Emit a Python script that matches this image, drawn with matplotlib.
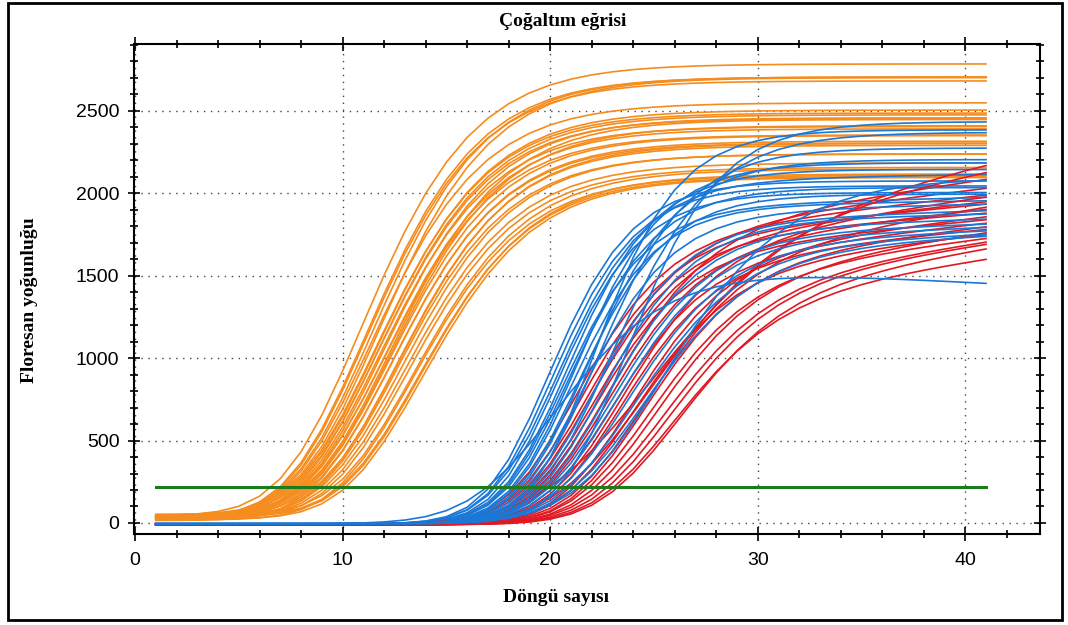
import numpy as np
import matplotlib
matplotlib.use("Agg")
import matplotlib.pyplot as plt
from matplotlib.patches import Rectangle
from matplotlib.ticker import MultipleLocator

# amplification data, one entry per well:
# ct = cycle where the curve crosses the threshold, top = value at cycle 41,
# drift = late slope per cycle, width = how slowly the curve bends over
cycles = np.arange(1, 42)
THRESHOLD = 220

orange_ct = [6.6, 7.0, 7.2, 7.1, 7.4, 7.3, 7.6, 7.8, 7.5, 8.0, 7.7, 8.2, 7.9, 8.3, 8.1,
             8.4, 8.0, 8.6, 8.5, 8.8, 8.7, 8.9, 9.0, 9.2, 9.4, 9.6, 9.8, 10.0, 10.2, 9.9]
orange_top = [2740, 2675, 2668, 2660, 2652, 2521, 2470, 2458, 2445, 2432, 2420, 2400, 2385, 2370, 2360,
              2325, 2310, 2290, 2280, 2262, 2250, 2215, 2200, 2150, 2130, 2100, 2090, 2080, 2072, 2060]
orange_base = [45, 30, 38, 22, 50, 28, 35, 18, 42, 26, 33, 48, 20, 40, 31,
               25, 44, 15, 36, 29, 52, 23, 39, 34, 27, 46, 19, 37, 24, 41]

blue_ct = [17.1, 17.3, 17.4, 17.6, 17.8, 17.9, 18.0, 18.2, 18.3, 18.5, 18.6, 18.8, 19.0,
           19.1, 19.2, 19.4, 19.6, 19.8, 20.0, 20.2, 20.4, 20.6, 20.9, 21.2, 17.0, 21.4]
blue_top = [2080, 2050, 2120, 2010, 2150, 1980, 2040, 2190, 1960, 2000, 2210, 1940, 2280,
            2390, 1900, 2375, 1880, 1850, 1820, 1800, 2440, 1780, 1760, 1750, 1460, 2100]
blue_drift = [0, 0, 2, 0, 0, 3, 0, 0, 2, 0, 0, 3, 0,
              0, 4, 0, 3, 4, 4, 5, 0, 5, 5, 6, -7, 0]
blue_width = [2.2, 2.2, 2.3, 2.2, 2.3, 2.2, 2.3, 2.3, 2.2, 2.3, 2.4, 2.3, 2.4,
              2.2, 2.4, 2.6, 2.4, 2.5, 2.6, 2.6, 2.4, 2.7, 2.8, 2.9, 3.0, 3.2]

red_ct = [18.4, 18.7, 18.9, 19.1, 19.3, 19.5, 19.7, 19.9, 20.0, 20.2, 20.4, 20.6,
          20.8, 21.0, 21.2, 21.5, 21.7, 21.9, 22.2, 22.5, 22.8, 23.1, 23.3]
red_top = [2000, 1945, 2041, 1890, 1960, 1850, 2096, 1914, 2205, 1830, 1990, 1792,
           2150, 1870, 1762, 1930, 1810, 1740, 1775, 1720, 1707, 1616, 1680]
red_drift = [14, 12, 15, 10, 14, 12, 18, 14, 25, 14, 18, 12,
             24, 15, 14, 20, 15, 15, 18, 18, 18, 18, 20]
red_width = [2.4, 2.4, 2.5, 2.4, 2.5, 2.4, 2.6, 2.5, 3.8, 2.5, 2.6, 2.5,
             3.3, 2.6, 2.6, 2.7, 2.6, 2.7, 2.7, 2.8, 2.8, 2.8, 2.8]

ORANGE = "#F58C1E"
BLUE = "#1A78D7"
RED = "#E11923"
GREEN = "#1C7C1C"


def amplification(ct, top, drift=0.0, width=3.0, base=0.0, shape=2.5):
    level = top + drift * (cycles - 41)
    level_ct = top + drift * (ct - 41)
    f = (THRESHOLD - base) / level_ct
    mid = ct + width * np.log(f ** (-1 / shape) - 1)
    frac = (1 + np.exp(-(cycles - mid) / width)) ** (-shape)
    return base + level * frac


fig = plt.figure(figsize=(10.68, 6.25), dpi=100)
ax = fig.add_axes([134 / 1068, 1 - 534 / 625, 906 / 1068, 490 / 625])

for ct, top, base in zip(orange_ct, orange_top, orange_base):
    ax.plot(cycles, amplification(ct, top, 0, 3.0, base, shape=3.5), color=ORANGE, lw=1.2)

# red and blue wells alternate in the plate, blue drawn last
for i in range(max(len(blue_ct), len(red_ct))):
    if i < len(red_ct):
        ax.plot(cycles, amplification(red_ct[i], red_top[i], red_drift[i], red_width[i], -10),
                color=RED, lw=1.2)
    if i < len(blue_ct):
        ax.plot(cycles, amplification(blue_ct[i], blue_top[i], blue_drift[i], blue_width[i], -5),
                color=BLUE, lw=1.2)

ax.plot([cycles[0], cycles[-1]], [THRESHOLD, THRESHOLD], color=GREEN, lw=2.2)

ax.set_xlim(-0.05, 43.6)
ax.set_ylim(-67, 2906)
ax.xaxis.set_major_locator(MultipleLocator(10))
ax.xaxis.set_minor_locator(MultipleLocator(2))
ax.yaxis.set_major_locator(MultipleLocator(500))
ax.yaxis.set_minor_locator(MultipleLocator(100))
ax.grid(True, which="major", linestyle=(0, (1, 4)), color="#444444", lw=1.0)
ax.tick_params(which="both", top=True, right=True, color="black", width=1.2,
               direction="inout", labelsize=14, labelfontfamily="Liberation Sans")
ax.tick_params(axis="x", which="major", length=10, pad=8)
ax.tick_params(axis="x", which="minor", length=6)
ax.tick_params(axis="y", which="major", length=9, pad=6)
ax.tick_params(axis="y", which="minor", length=6)
for side in ax.spines.values():
    side.set_linewidth(1.5)

fig.text(563 / 1068, 1 - 22 / 625, "Çoğaltım eğrisi", ha="center", va="center",
         family="Liberation Serif", weight="bold", fontsize=14)
fig.text(556 / 1068, 1 - 598 / 625, "Döngü sayısı", ha="center", va="center",
         family="Liberation Serif", weight="bold", fontsize=14)
fig.text(30 / 1068, 1 - 300 / 625, "Floresan yoğunluğu", ha="center", va="center",
         rotation=90, family="Liberation Serif", weight="bold", fontsize=14)

fig.patches.append(Rectangle((8 / 1068, 5 / 625), 1054 / 1068, 617 / 625,
                             transform=fig.transFigure, fill=False, lw=2, color="black"))

fig.savefig("out.png", dpi=100)
